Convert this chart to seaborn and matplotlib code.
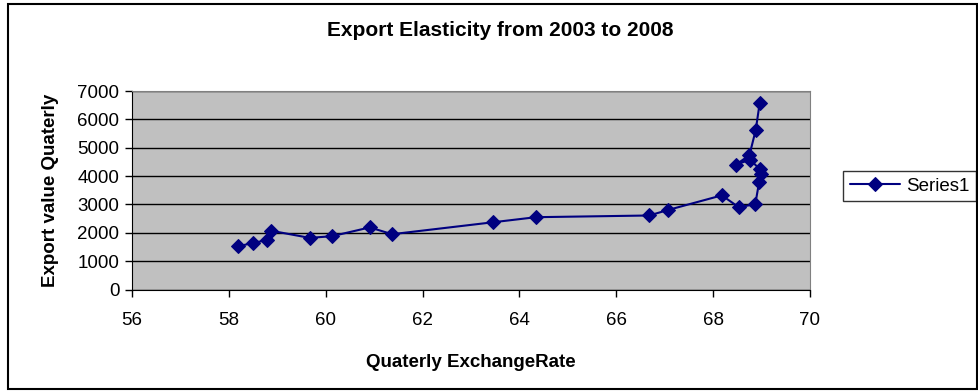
import pandas as pd
import seaborn as sns
import matplotlib.pyplot as plt
from matplotlib.patches import Rectangle

# quarterly exchange rate vs quarterly export value, 2003-2008
exchange_rate = [58.19, 58.49, 58.78, 58.88, 59.67, 60.13, 60.91, 61.37,
                 63.45, 64.34, 66.68, 67.06, 68.18, 68.53, 68.87, 68.95,
                 68.99, 68.96, 68.76, 68.47, 68.75, 68.88, 68.96]
export_value = [1520, 1640, 1740, 2070, 1820, 1880, 2190, 1950,
                2370, 2550, 2610, 2800, 3320, 2900, 3010, 3790,
                4080, 4250, 4580, 4400, 4740, 5630, 6560]
x_ticks = list(range(56, 71, 2))
y_ticks = list(range(0, 7001, 1000))
series_name = "Series1"


def create_export_chart():
    df = pd.DataFrame({"rate": exchange_rate, "value": export_value})
    df["series"] = series_name

    sns.set_style("white")
    plt.rcParams["font.family"] = ["Liberation Sans", "DejaVu Sans"]
    for key in ["text.color", "axes.labelcolor", "xtick.color", "ytick.color"]:
        plt.rcParams[key] = "black"

    W, H = 979, 391
    fig = plt.figure(figsize=(W / 100, H / 100), dpi=100)
    # plot area in pixel terms: left 132, right 810, top 91, bottom 289.5
    ax = fig.add_axes([132 / W, 1 - 289.5 / H, (810 - 132) / W, (289.5 - 91) / H])
    ax.set_facecolor("#C0C0C0")

    sns.lineplot(
        data=df, x="rate", y="value", hue="series", palette=["#000080"],
        sort=False, estimator=None, marker="D", markersize=7,
        markeredgecolor="#000080", linewidth=1.5, ax=ax,
    )

    ax.set_xlim(56, 70)
    ax.set_ylim(0, 7000)
    ax.set_xticks(x_ticks)
    ax.set_yticks(y_ticks)
    ax.yaxis.grid(True, color="black", linewidth=1)
    ax.xaxis.grid(False)
    ax.set_axisbelow(True)
    for side in ["top", "right"]:
        ax.spines[side].set_color("#808080")
    for side in ["left", "bottom"]:
        ax.spines[side].set_color("black")
    ax.tick_params(axis="both", direction="out", length=5, width=1,
                   color="black", labelsize=13.5, left=True, bottom=True)
    ax.tick_params(axis="x", pad=11)
    ax.tick_params(axis="y", pad=4)

    ax.set_xlabel("Quaterly ExchangeRate", fontsize=13.5, fontweight="bold", labelpad=18)
    ax.set_ylabel("Export value Quaterly", fontsize=13.5, fontweight="bold", labelpad=13)
    fig.text(500 / W, 1 - 30 / H, "Export Elasticity from 2003 to 2008",
             ha="center", va="center", fontsize=15, fontweight="bold")

    leg = ax.legend(loc="center left", bbox_to_anchor=(843 / W, 1 - 186 / H),
                    bbox_transform=fig.transFigure, frameon=True, fancybox=False,
                    fontsize=13.5, handlelength=2.7, handletextpad=0.3,
                    borderpad=0.35, borderaxespad=0)
    leg.get_frame().set_edgecolor("black")
    leg.get_frame().set_linewidth(1)

    # outer chart border
    fig.patches.append(Rectangle((8 / W, 2 / H), 969 / W, 385 / H, transform=fig.transFigure,
                                 fill=False, edgecolor="black", linewidth=1.5))

    fig.savefig("out.png", dpi=100)


if __name__ == "__main__":
    create_export_chart()
